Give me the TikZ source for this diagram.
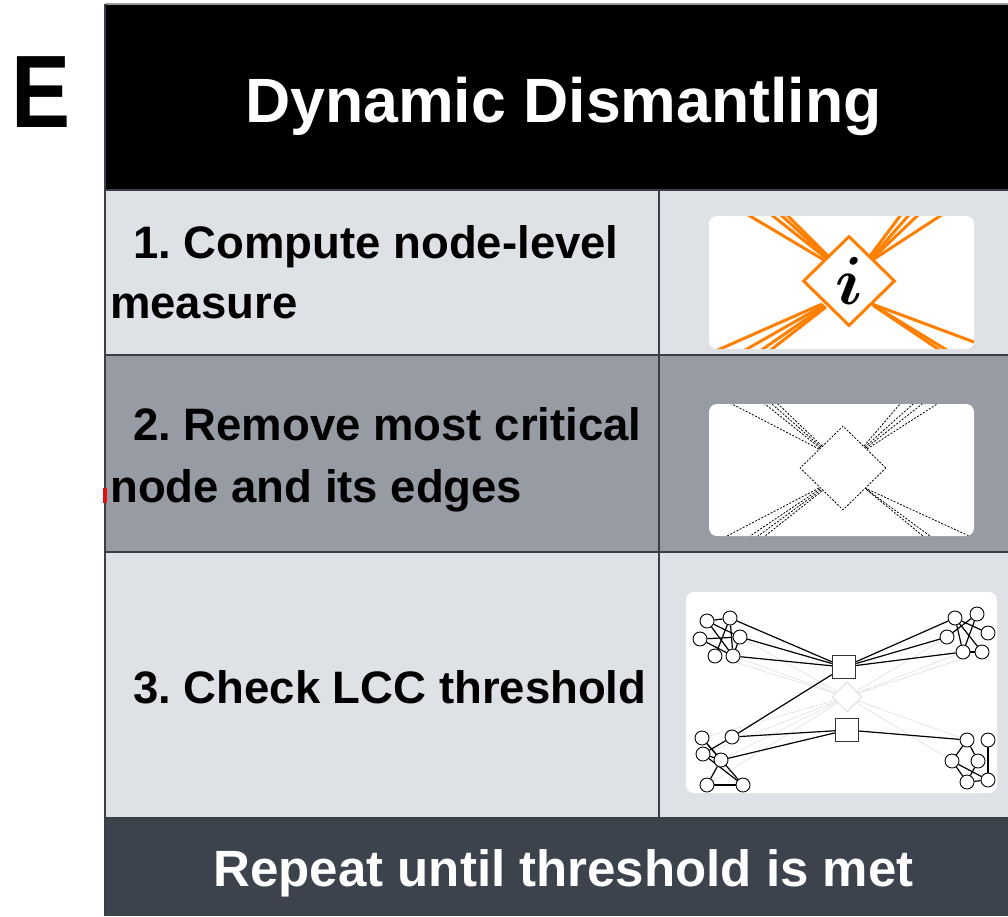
\documentclass[tikz,border=0pt]{standalone}
\usepackage{bm}
\usepackage{fontspec}
\setmainfont{Liberation Sans}
\usetikzlibrary{calc,shapes.geometric}
\definecolor{rowlight}{HTML}{DEE1E6}
\definecolor{rowmid}{HTML}{969BA4}
\definecolor{rowdark}{HTML}{3D434D}
\definecolor{rulegray}{HTML}{3A3F47}
\definecolor{fanorange}{HTML}{FF8000}
\definecolor{marker}{HTML}{E01010}
\pgfdeclarelayer{fg}
\pgfsetlayers{main,fg}
\frenchspacing
\tikzset{
  rowtext/.style={anchor=base west, inner sep=0, text=black,
    font=\fontsize{45.5}{50}\selectfont\bfseries},
  bandtext/.style={anchor=base, inner sep=0, text=white, font=\bfseries},
  netnode/.style={circle, draw=black, fill=white, line width=0.9,
    minimum size=14, inner sep=0},
  hub/.style={rectangle, draw=black!80, fill=white, line width=1.4,
    minimum size=23, inner sep=0},
  tie/.style={black, line width=1.2},
  faint/.style={black!12, line width=0.6},
  fanline/.style={fanorange, line width=3},
  ghostline/.style={black, line width=0.8, dash pattern=on 2pt off 1.5pt},
  panel/.style={fill=white, rounded corners=8},
  tablerule/.style={rulegray, line width=2}
}
\begin{document}
\begin{tikzpicture}[x=1pt,y=-1pt]
\useasboundingbox (0,0) rectangle (1008,916);
\fill[white] (0,0) rectangle (1008,916);

% panel label
\node[anchor=base west, inner sep=0, font=\fontsize{103}{110}\selectfont\bfseries]
  (label) at (11,127) {\scalebox{0.86}[1]{E}};

% table bands
\fill[black] (105,4) rectangle (1008,190);
\fill[rowlight] (105,190) rectangle (1008,355);
\fill[rowmid] (105,355) rectangle (1008,552);
\fill[rowlight] (105,552) rectangle (1008,818);
\fill[rowdark] (105,818) rectangle (1008,916);
\draw[black!40, line width=1.5] (105,4) -- (1008,4);
\draw[tablerule] (105,190) -- (1008,190);
\draw[tablerule] (105,355) -- (1008,355);
\draw[tablerule] (105,552) -- (1008,552);
\draw[tablerule] (105,818) -- (1008,818);
\draw[tablerule] (659,190) -- (659,818);
\draw[tablerule] (105,4) -- (105,916);
\fill[marker] (103,488) rectangle (106.5,503);

% header and footer
\node[bandtext, font=\fontsize{62.6}{68}\selectfont\bfseries] (title) at (563.5,122) {Dynamic Dismantling};
\node[bandtext, font=\fontsize{51}{56}\selectfont\bfseries] (footer) at (563.5,886) {Repeat until threshold is met};

% step texts
\node[rowtext] (s1a) at (133,258) {1. Compute node-level};
\node[rowtext] (s1b) at (110,318) {measure};
\node[rowtext] (s2a) at (133,440) {2. Remove most critical};
\node[rowtext] (s2b) at (110,502) {node and its edges};
\node[rowtext] (s3a) at (133,703) {3. Check LCC threshold};

% step 1: node with its edges highlighted
\fill[panel] (709,216) rectangle (974,349);
\begin{scope}
  \clip[rounded corners=8] (709,216) rectangle (974,349);
  \foreach \xa/\ya/\xb/\yb in {
      824/260/750/216, 826/258/773/216, 827/257/782/216, 828/256/788/216,
      870/256/900/216, 872/257/908/216, 873/258/917/216, 874/259/940/216,
      822/304/720/349, 824/305/747/349, 825/306/763/349, 826/307/772/349,
      872/304/974/342, 873/305/945/349, 874/306/938/349}
    \draw[fanline] (\xa,\ya) -- ($(\xa,\ya)!2.5!(\xb,\yb)$);
  \node[diamond, draw=fanorange, line width=3, fill=white, inner sep=0,
        minimum width=92, minimum height=90] (di1) at (849,281)
        {\scalebox{6.8}{$\bm{i}$}};
\end{scope}

% step 2: node removed, edges shown dashed
\fill[panel] (709,404) rectangle (974,536);
\begin{scope}
  \clip[rounded corners=8] (709,404) rectangle (974,536);
  \foreach \xa/\ya/\xb/\yb in {
      819/449/732/404, 820/448/765/404, 821/447/772/404, 822/446/778/404,
      864/446/900/404, 865/447/913/404, 866/448/922/404, 867/449/937/404,
      819/488/727/536, 820/489/750/536, 821/490/758/536, 822/491/765/536,
      865/488/967/535, 866/489/930/536, 867/490/923/536}
    \draw[ghostline] (\xa,\ya) -- ($(\xa,\ya)!2.5!(\xb,\yb)$);
  \node[diamond, draw=black, fill=white, line width=0.8,
        dash pattern=on 2pt off 1.5pt, inner sep=0,
        minimum width=86, minimum height=84] (di2) at (843,468) {};
\end{scope}

% step 3: remaining network and its largest component
\fill[panel] (686,592) rectangle (997,793);
\begin{pgfonlayer}{fg}
  \node[hub] (h1) at (844,667) {};
  \node[hub] (h2) at (847,730) {};
  \node[diamond, draw=black!12, fill=white, line width=1, inner sep=0,
        minimum size=30] (gone) at (847,697) {};
  % upper-left group
  \node[netnode] (a1) at (707,621) {};
  \node[netnode] (a2) at (730,618) {};
  \node[netnode] (a3) at (700,639) {};
  \node[netnode] (a4) at (740,637) {};
  \node[netnode] (a5) at (715,656) {};
  \node[netnode] (a6) at (733,656) {};
  % upper-right group
  \node[netnode] (b1) at (955,618) {};
  \node[netnode] (b2) at (977,614) {};
  \node[netnode] (b3) at (947,637) {};
  \node[netnode] (b4) at (988,633) {};
  \node[netnode] (b5) at (963,652) {};
  \node[netnode] (b6) at (982,652) {};
  % lower-left group
  \node[netnode] (c1) at (702,738) {};
  \node[netnode] (c2) at (732,737) {};
  \node[netnode] (c3) at (703,754) {};
  \node[netnode] (c4) at (721,760) {};
  \node[netnode] (c5) at (707,785) {};
  \node[netnode] (c6) at (743,785) {};
  % lower-right group
  \node[netnode] (d1) at (967,740) {};
  \node[netnode] (d2) at (988,740) {};
  \node[netnode] (d3) at (952,761) {};
  \node[netnode] (d4) at (978,761) {};
  \node[netnode] (d5) at (967,782) {};
  \node[netnode] (d6) at (988,780) {};
\end{pgfonlayer}

% former links through the removed node
\foreach \u in {a4,a5,a6,b3,b5,b6,c1,c3,c4,c5,d1,d3}
  \draw[faint] (\u) -- (gone);

% links inside the groups
\foreach \u/\v in {a1/a4,a1/a6,a2/a5,a2/a6,a3/a4,a4/a6,a1/a2,a3/a6,
                   b1/b4,b1/b6,b2/b5,b3/b2,b5/b6,b1/b5,
                   c1/c4,c2/c3,c3/c6,c4/c5,c5/c6,c1/c6,c3/c4,
                   d1/d3,d2/d6,d3/d5,d4/d5,d5/d6,d1/d4,d3/d6}
  \draw[tie] (\u) -- (\v);

% links to the hubs
\foreach \u in {a2,a4,a6,b1,b3,b5,c2}
  \draw[tie] (\u) -- (h1);
\foreach \u in {c2,c4,d1}
  \draw[tie] (\u) -- (h2);
\end{tikzpicture}
\end{document}
